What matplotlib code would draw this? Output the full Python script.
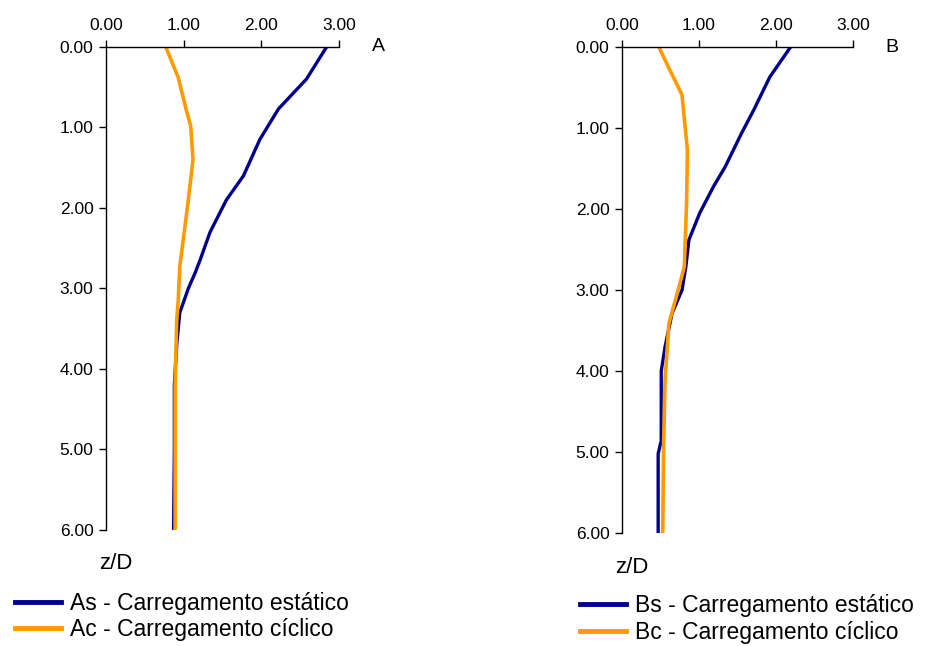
import matplotlib
matplotlib.use("Agg")
import matplotlib.pyplot as plt
from matplotlib.ticker import FormatStrFormatter

plt.rcParams["font.family"] = ["Liberation Sans", "DejaVu Sans"]

# depth ratio z/D and normalised values for pile A
z_as = [0, 0.4, 0.77, 1.15, 1.6, 1.9, 2.3, 2.65, 2.8, 3.0, 3.3, 3.7, 4.2, 5.0, 6.0]
a_static = [2.84, 2.58, 2.22, 1.98, 1.77, 1.55, 1.34, 1.21, 1.15, 1.06, 0.95, 0.91, 0.88, 0.88, 0.87]
z_ac = [0, 0.38, 0.77, 0.98, 1.4, 1.9, 2.73, 3.15, 3.4, 4.2, 5.0, 6.0]
a_cyclic = [0.77, 0.93, 1.03, 1.09, 1.12, 1.06, 0.95, 0.93, 0.91, 0.89, 0.89, 0.89]

# pile B
z_bs = [0, 0.37, 0.78, 1.07, 1.48, 1.72, 2.05, 2.38, 2.71, 3.0, 3.29, 3.7, 4.0, 4.86, 5.02, 6.0]
b_static = [2.19, 1.92, 1.71, 1.55, 1.34, 1.19, 1.01, 0.87, 0.83, 0.78, 0.65, 0.56, 0.51, 0.51, 0.47, 0.47]
z_bc = [0, 0.28, 0.59, 0.98, 1.27, 1.89, 2.71, 3.0, 3.41, 4.1, 4.93, 6.0]
b_cyclic = [0.48, 0.62, 0.78, 0.82, 0.85, 0.84, 0.81, 0.73, 0.61, 0.56, 0.54, 0.53]

x_ticks = [0, 1, 2, 3]
z_ticks = [0, 1, 2, 3, 4, 5, 6]

BLUE = "#00008c"
ORANGE = "#ff9a00"

fig = plt.figure(figsize=(9.25, 6.46), dpi=100)
ax_a = fig.add_axes([0.1146, 0.1796, 0.2519, 0.7477])
ax_b = fig.add_axes([0.6724, 0.1749, 0.2497, 0.7523])


def style_axis(ax, letter):
    ax.set_xlim(0, 3)
    ax.set_ylim(6, 0)
    ax.set_xticks(x_ticks)
    ax.set_yticks(z_ticks)
    ax.xaxis.set_major_formatter(FormatStrFormatter("%.2f"))
    ax.yaxis.set_major_formatter(FormatStrFormatter("%.2f"))
    ax.xaxis.tick_top()
    for side in ("right", "bottom"):
        ax.spines[side].set_visible(False)
    for side in ("left", "top"):
        ax.spines[side].set_linewidth(1.0)
    ax.tick_params(axis="both", direction="out", length=5, width=1,
                   labelsize=12.5, colors="black")
    ax.tick_params(axis="x", pad=5)
    ax.tick_params(axis="y", pad=4)
    ax.text(1.17, 1.0, letter, transform=ax.transAxes, fontsize=14,
            ha="center", va="center")
    ax.text(-0.03, -0.07, "z/D", transform=ax.transAxes, fontsize=16,
            ha="left", va="center")


ax_a.plot(a_static, z_as, color=BLUE, lw=2.4, label="As - Carregamento estático")
ax_a.plot(a_cyclic, z_ac, color=ORANGE, lw=2.6, label="Ac - Carregamento cíclico")
style_axis(ax_a, "A")

ax_b.plot(b_static, z_bs, color=BLUE, lw=2.4, label="Bs - Carregamento estático")
ax_b.plot(b_cyclic, z_bc, color=ORANGE, lw=2.6, label="Bc - Carregamento cíclico")
style_axis(ax_b, "B")

for ax, anchor in ((ax_a, (0.016, 0.046)), (ax_b, (0.627, 0.042))):
    handles, labels = ax.get_legend_handles_labels()
    leg = fig.legend(handles, labels, loc="center left", bbox_to_anchor=anchor,
                     frameon=False, fontsize=16.5, handlelength=2.0,
                     handletextpad=0.4, labelspacing=0.15, borderaxespad=0,
                     borderpad=0)
    for line in leg.get_lines():
        line.set_linewidth(3.5)

fig.savefig("out.png", dpi=100)
